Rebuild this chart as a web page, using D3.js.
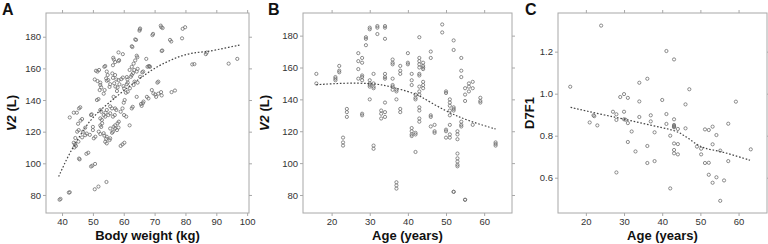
<!DOCTYPE html>
<html>
<head>
<meta charset="utf-8">
<script src="https://cdn.jsdelivr.net/npm/d3@7"></script>
<style>
  html, body { margin: 0; padding: 0; background: #fff; }
  svg { display: block; font-family: "Liberation Sans", Arial, sans-serif; }
</style>
</head>
<body>
<svg id="chart" width="768" height="244"></svg>
<script>
// Panel A: body weight (kg) vs V2 (L)
const aPoints = [
  [39.2,77],[39.5,77.5],[42.2,81.5],[42.5,81.7],[42.5,129],[43.8,132],[44.8,132],[45.5,134.7],[45.9,135.4],
  [44.3,116],[44,110],[44.5,111],[44.2,112],[43.8,113],[45.3,113.7],[45.2,125],[46,127],[46.5,128],
  [46.5,116.4],[46.8,120],[47.5,122.5],[45.7,102.5],[45.5,103],[47.9,106],[48.5,106.7],[49.4,98],[49.8,98.5],
  [50.7,99.6],[50.6,83.6],[51.8,85.3],[54.4,88.2],[49.4,130.5],[49.6,131],[50,123],[45.4,121],[44.9,120],
  [58.3,170.1],[59.7,169],[62.6,174],[62.8,173.5],[63.7,178.3],[64,178],[65.2,184.6],[65.3,185.2],[65.1,183.8],
  [69.3,181],[69.5,181.8],[72,187],[72.2,186],[72.6,185.5],[72.3,171],[72.5,171.3],[75,178],[75.4,177],
  [79.1,185],[79.9,186],[78.9,179],[67.3,166],[62.6,161],[61.9,159],[56.6,166.7],[56.8,165.6],[56.5,162],
  [53.7,161],[54,161.5],[57.2,164],[58.3,164.6],[58.5,165.2],[63.7,165],[63.2,163],[64.2,168],[64.4,167],
  [68.5,161],[68.3,161.4],[82.2,162.5],[82.9,162.7],[86.6,169],[86.9,170],[94,163],[96.8,166],
  [51,158.5],[51.5,158],[52,159],[50.6,153],[51.5,152],[52.4,151],[52.4,149.5],[52.7,148],[52.2,146.3],
  [54.5,158],[54.8,155.8],[54.3,153.7],[54.5,152.2],[55,152.6],[55.6,150],[55.4,148.3],[56.3,156.8],[56.5,154],
  [57.2,155.8],[57.6,153],[56.9,150.6],[57.3,148.5],[58.3,152.6],[58.6,150],[59.2,153.2],[59.7,154.2],[58,148],
  [57.8,145.7],[59.9,148.8],[60.1,147.3],[61,150],[61.3,151],[61.2,153],[61,154.5],[62.3,154.7],[62.6,155.8],
  [63,157],[63.4,159],[64.2,158],[64.5,159.7],[65.3,154.7],[63.5,151.6],[63.2,149.5],[62,147.4],[64.5,151],
  [66,157.5],[66.3,158],[67.7,161],[68.1,161.4],[64.2,142],[60.7,144.6],[61.3,145.3],[56.7,142],[53.8,146.3],
  [53.5,144],[51.3,140],[51.8,140.6],[60.3,140],[60,138.3],[67.5,142],[68,141],[66.4,139],[66.2,138],
  [65.6,137.5],[65.8,136.3],[69.1,146.3],[69.6,144.2],[70.9,151],[71.2,151.6],[72.1,145],[72.3,142.9],
  [71.2,144],[70.2,143.5],[70.5,142],[75.5,145],[76.6,146],
  [55.6,136],[56.2,134.7],[57.2,134.7],[57.6,133.7],[54.5,133.7],[54.1,132],[52.7,132.6],[52.4,133.7],
  [53.5,130.5],[54,129.5],[55,130.5],[55.6,131.6],[52.4,128.4],[52.9,127.4],[56.5,129.5],[57.1,130.5],
  [59.6,134.7],[59,132.6],[60.1,130.5],[60.8,129.5],[62.6,134.7],[62.9,135.7],[58,125.3],[58.4,126.3],
  [56.7,123],[57.2,124],[55.6,122],[52.4,124],[52.7,123],[53,125.3],[50.8,116.8],[50.3,115.8],[52.4,118.5],
  [51.9,120],[53.5,119],[53.7,117.5],[54.5,116.8],[54.3,115.5],[55.6,115.8],[55.4,114.7],[56.2,119.3],
  [56.5,120],[57.2,122],[57.8,121],[58.3,122.6],[61.9,124],[59,111],[59.6,112],[60.2,113],[54.5,112.6],
  [54,113.6],[47.5,117.8],[48,118.8],[49,118],[50,121]
];
const aFit = [[38.9,91.6],[42,105],[45.9,117.9],[49,127],[52.4,133.7],[56,139.5],[60,146],[64,152],[67.5,156.8],
  [70.5,160.8],[73.9,164],[77,166.8],[80.4,169],[84,170.2],[86.9,170.5],[90,171.7],[94,173.3],[97.5,174.7]];

// Panel B: age (years) vs V2 (L), values grouped by age
const bAges = [16,21,22,23,24,27,28,29,30,31,32,33,34,36,37,38,40,41,42,43,44,46,47,49,50,51,52,53,54,55,56,57,59,63];
const bV2 = [
  [156,150],[154,153,152],[161,158,157],[116,113,111],[134,132,129],[169,164,159,153],
  [166,163,155,154,152,131,130],[179,178,174],[185,184,152,150,149,148,140],[156,150,148,147,111,109],
  [186,185,181],[133,131,128],[186,185,178,156,154,153,138,132,129],[165,163,162,153,149,148,146],
  [146,145,140,88,86,84],[161,158,156,134,132],[169,163,162],[156,152,149,122,120,118,117],
  [143,141,140,119,118,107],[179,166,164,162,160,156,155,148,145,143,135,133,128,126],
  [163,161,160,159,151,149,147],[170,166,130,129,123],[124,120,119],[187,182],[145,144,121,120,116],
  [140,138,136,133,130,124,118,116],[177,171,135,134,133,82,82],[120,118,115,106,103,101,99,98],
  [166,158,154,126,124,123],[147,143,139,77,77],[150,148,145],[151,147,124],[141,139,138],[113,112,111]
];
const bFit = [[16,149.2],[20,149.8],[25,150.3],[30,150],[33,149.3],[36,147.6],[40,145],[43,142.5],
  [46,138],[50,132.7],[53,129.4],[56,126.6],[60,123.5],[63,121.4]];

// Panel C: age (years) vs D7F1
const cAge = [15.9,24,21,22,22.2,23,27.1,28,28,28,29,30,30,30,30.4,31,31,31,32,33,34,34,34,36.1,36.1,36.1,
  37,37,38,38,40,41.1,41.1,41.1,42.1,42.1,43.1,43.1,43.1,43.1,43.1,43.1,43.1,43.1,43.1,44.1,44.1,44.1,
  47.1,46.1,46.1,49.1,50.2,50.2,51.2,51.2,52.2,52.2,52.2,53.2,53.2,53.2,54.2,54.2,55.2,55.2,56.2,57.3,57.3,59.3,63.2];
const cD7F1 = [1.033,1.324,0.863,0.897,0.893,0.849,0.914,0.902,0.875,0.625,0.984,0.998,0.914,0.878,0.876,0.98,0.86,0.77,
  0.82,0.725,1.052,0.963,0.889,1.071,0.751,0.67,0.897,0.868,0.816,0.679,0.97,1.203,0.903,0.856,0.80,0.549,
  1.163,0.878,0.851,0.846,0.84,0.763,0.732,0.716,0.843,0.832,0.76,0.711,1.021,0.949,0.835,0.748,0.738,0.711,
  0.83,0.67,0.827,0.671,0.614,0.843,0.759,0.576,0.803,0.602,0.729,0.49,0.587,0.857,0.679,0.962,0.735];
const cFit = [[16,0.935],[20,0.918],[25,0.898],[30,0.879],[35,0.858],[40,0.838],[43,0.826],[45,0.81],
  [47,0.786],[49,0.758],[51,0.74],[53,0.733],[56,0.722],[60,0.7],[63,0.683]];

const svg = d3.select("#chart");
const FRAME = "#a8a8a8";

function panel(opt) {
  const g = svg.append("g");
  const x = d3.scaleLinear().domain(opt.xDomain).range([opt.left, opt.right]);
  const y = d3.scaleLinear().domain(opt.yDomain).range([opt.bottom, opt.top]);

  // axes on all four sides, labels only left/bottom
  const axes = [
    [d3.axisBottom(x).tickValues(opt.xTicks), `translate(0,${opt.bottom})`, true],
    [d3.axisTop(x).tickValues(opt.xTicks).tickFormat(""), `translate(0,${opt.top})`, false],
    [d3.axisLeft(y).tickValues(opt.yTicks).tickFormat(opt.yFmt || d3.format("d")), `translate(${opt.left},0)`, true],
    [d3.axisRight(y).tickValues(opt.yTicks).tickFormat(""), `translate(${opt.right},0)`, false]
  ];
  axes.forEach(([ax, tr]) => {
    const a = g.append("g").attr("transform", tr)
      .call(ax.tickSize(3).tickSizeOuter(0).tickPadding(2));
    a.select(".domain").remove();
    a.selectAll("line").attr("stroke", FRAME);
    a.selectAll("text").attr("font-size", "9.5px").attr("fill", "#333");
  });

  g.append("rect")
    .attr("x", opt.left).attr("y", opt.top)
    .attr("width", opt.right - opt.left).attr("height", opt.bottom - opt.top)
    .attr("fill", "none").attr("stroke", FRAME).attr("stroke-width", 1);

  g.append("g").selectAll("circle")
    .data(opt.points)
    .join("circle")
    .attr("cx", d => x(d[0])).attr("cy", d => y(d[1]))
    .attr("r", 1.6)
    .attr("fill", "none")
    .attr("stroke", "#6f6f6f")
    .attr("stroke-width", 0.8);

  g.append("path")
    .datum(opt.fit)
    .attr("d", d3.line().x(d => x(d[0])).y(d => y(d[1])).curve(d3.curveBasis))
    .attr("fill", "none")
    .attr("stroke", "#444")
    .attr("stroke-width", 1.2)
    .attr("stroke-dasharray", "1.6,1.8");

  // panel letter
  g.append("text")
    .attr("x", opt.letterX).attr("y", 14.5)
    .attr("font-size", "16px").attr("font-weight", "bold").attr("fill", "#111")
    .text(opt.letter);

  // x title
  g.append("text")
    .attr("x", (opt.left + opt.right) / 2).attr("y", 240)
    .attr("text-anchor", "middle")
    .attr("font-size", "13px").attr("font-weight", "bold").attr("fill", "#111")
    .text(opt.xTitle);

  // y title
  const yt = g.append("text")
    .attr("transform", `translate(${opt.yTitleX},${(opt.top + opt.bottom) / 2}) rotate(-90)`)
    .attr("text-anchor", "middle")
    .attr("font-size", "13px").attr("font-weight", "bold").attr("fill", "#111");
  if (opt.yItalic) {
    yt.append("tspan").attr("font-style", "italic").text(opt.yItalic);
    yt.append("tspan").text(opt.yTitle);
  } else {
    yt.text(opt.yTitle);
  }
}

panel({
  left: 46, right: 249, top: 13, bottom: 213,
  xDomain: [34.8, 100.6], yDomain: [68.6, 195],
  xTicks: d3.range(40, 101, 10), yTicks: d3.range(80, 181, 20),
  points: aPoints, fit: aFit,
  letter: "A", letterX: 2,
  xTitle: "Body weight (kg)", yItalic: "V2", yTitle: " (L)", yTitleX: 16
});

const bPoints = [];
bAges.forEach((a, i) => bV2[i].forEach(v => bPoints.push([a, v])));
panel({
  left: 303, right: 512, top: 13, bottom: 213,
  xDomain: [12.5, 67.3], yDomain: [68.7, 194.2],
  xTicks: d3.range(20, 61, 10), yTicks: d3.range(80, 181, 20),
  points: bPoints, fit: bFit,
  letter: "B", letterX: 268,
  xTitle: "Age (years)", yItalic: "V2", yTitle: " (L)", yTitleX: 269
});

panel({
  left: 558, right: 767, top: 13, bottom: 213,
  xDomain: [12.7, 67.45], yDomain: [0.432, 1.384],
  xTicks: d3.range(20, 61, 10), yTicks: [0.6, 0.8, 1.0, 1.2], yFmt: d3.format(".1f"),
  points: cAge.map((a, i) => [a, cD7F1[i]]), fit: cFit,
  letter: "C", letterX: 525,
  xTitle: "Age (years)", yTitle: "D7F1", yTitleX: 534
});
</script>
</body>
</html>
